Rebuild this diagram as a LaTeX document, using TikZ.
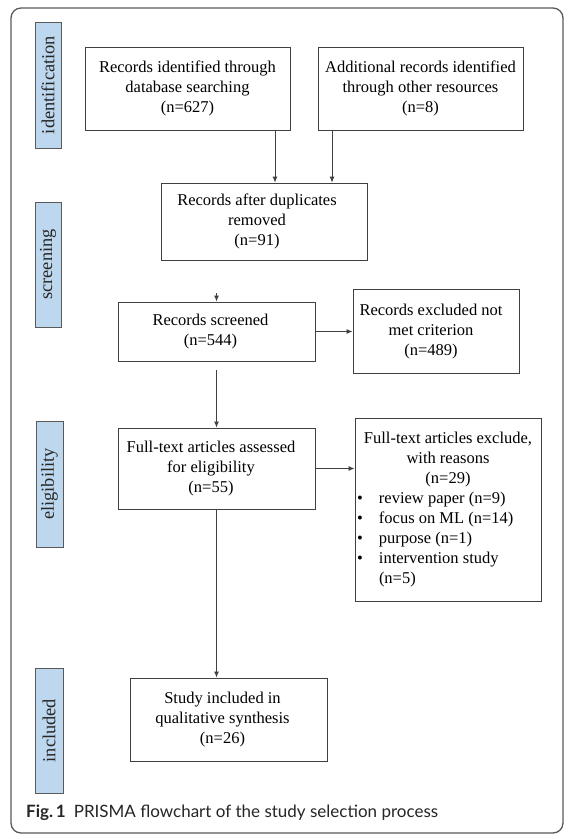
\documentclass[tikz,border=0pt]{standalone}
\usepackage{fontspec}
\setmainfont{Liberation Serif}
\newfontfamily\capfont{Lato}
\usetikzlibrary{arrows.meta,calc}
\definecolor{sidefill}{RGB}{189,215,238}
\definecolor{lineg}{RGB}{64,64,64}
\definecolor{frameg}{RGB}{90,90,90}
\newcommand\tl[2][0pt]{\begin{tabular}{@{}c@{\hspace{#1}}}#2\end{tabular}}
\tikzset{
  box/.style={draw=lineg, line width=0.9pt, rectangle, inner sep=0pt, text=black,
    font=\fontsize{16.5}{20}\selectfont},
  side/.style={draw=frameg, line width=0.8pt, fill=sidefill, rotate=90, inner sep=0pt,
    font=\fontsize{18.4}{20}\selectfont, text=black!85},
  arr/.style={draw=lineg, line width=0.9pt, -{Latex[length=6pt,width=5pt]}}
}
\begin{document}
\begin{tikzpicture}[x=1pt,y=-1pt]
\useasboundingbox (0,0) rectangle (578,839);
\fill[white] (0,0) rectangle (578,839);
\draw[frameg, line width=1.3pt, rounded corners=10pt] (11,8) rectangle (563,833);

% side labels
\node[side, minimum width=126, minimum height=26] (sid) at (48,85) {identification};
\node[side, minimum width=125, minimum height=26] (sscr) at (48,264.5) {screening};
\node[side, minimum width=126, minimum height=27] (seli) at (49.5,484) {eligibility};
\node[side, minimum width=125, minimum height=28] (sinc) at (49,730.5) {included};

% boxes
\node[box, minimum width=205, minimum height=83] (A) at (187.5,88.5)
  {\tl{Records identified through\\database searching\\(n=627)}};
\node[box, minimum width=205, minimum height=83] (B) at (420.5,88.5)
  {\tl{Additional records identified\\through other resources\\(n=8)}};
\node[box, minimum width=206, minimum height=77] (C) at (264,221.5)
  {\raisebox{-4pt}{\tl[14pt]{Records after duplicates\\removed\\(n=91)}}};
\node[box, minimum width=197, minimum height=59] (D) at (216.5,331.5)
  {\tl[12pt]{Records screened\\(n=544)}};
\node[box, minimum width=166, minimum height=84] (E) at (436,331)
  {\tl[10pt]{Records excluded not\\met criterion\\(n=489)}};
\node[box, minimum width=197, minimum height=81] (F) at (216.5,468.5)
  {\tl[11pt]{Full-text articles assessed\\for eligibility\\(n=55)}};
\node[box, minimum width=186, minimum height=183] (G) at (448,509.5)
  {\begin{minipage}{182pt}\fontsize{16.5}{20}\selectfont
   \centering Full-text articles exclude,\\with reasons\\(n=29)\par
   \raggedright
   \makebox[22pt][l]{\textbullet}review paper (n=9)\par
   \makebox[22pt][l]{\textbullet}focus on ML (n=14)\par
   \makebox[22pt][l]{\textbullet}purpose (n=1)\par
   \makebox[22pt][l]{\textbullet}intervention study\par
   \hspace*{22pt}(n=5)\par
   \end{minipage}};
\node[box, minimum width=197, minimum height=83] (H) at (228.5,719.5)
  {\tl[12pt]{Study included in\\qualitative synthesis\\(n=26)}};

% connectors
\draw[arr] (275,0 |- A.south) -- (275,0 |- C.north);
\draw[arr] (332,0 |- B.south) -- (332,0 |- C.north);
\coordinate (dtop) at (216.5,293);
\draw[arr] (dtop) -- (D.north);
\draw[arr] (D.east) -- (D.east -| E.west);
\draw[arr, shorten <=9pt] (D.south) -- (F.north);
\draw[arr] (F.east) -- (F.east -| G.west);
\draw[arr] (F.south) -- (F.south |- H.north);

% caption
\node[anchor=base west, inner sep=0pt, font={\capfont\fontsize{17}{20}\selectfont}, text=black!85] (cap) at (26,817)
  {\textbf{Fig.\,1}\hspace{8pt}PRISMA flowchart of the study selection process};
\end{tikzpicture}
\end{document}
